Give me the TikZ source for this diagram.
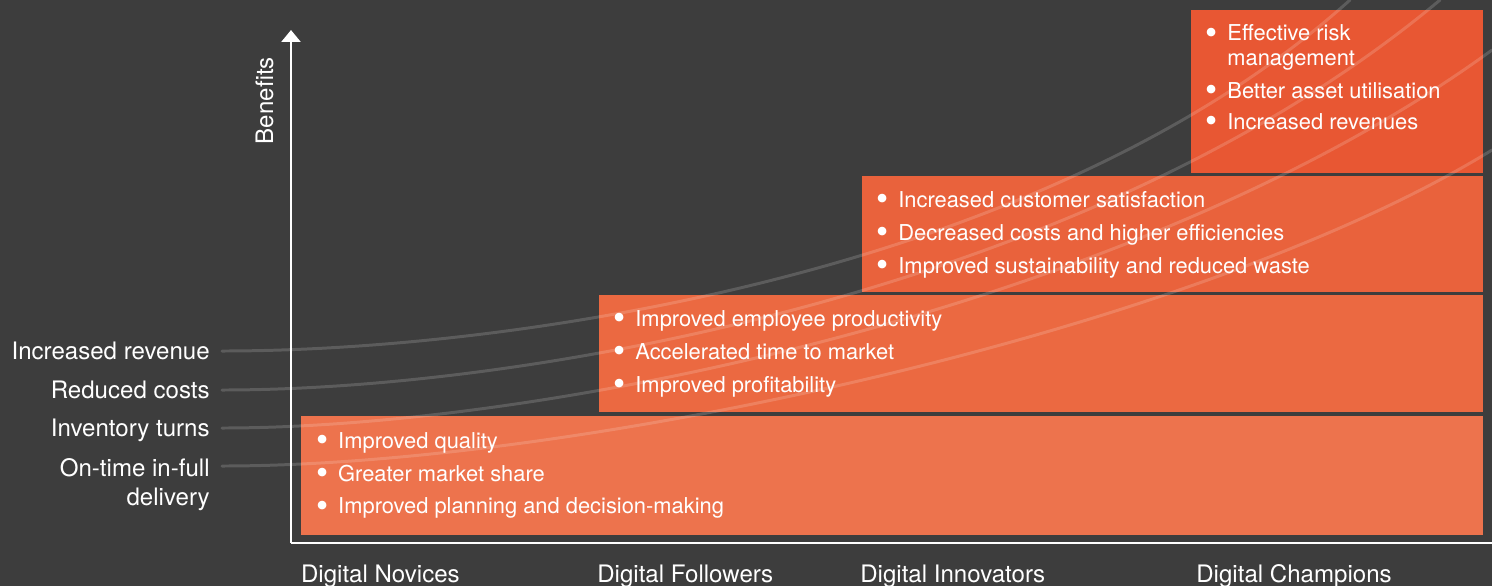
\documentclass[tikz,border=0pt]{standalone}
\usepackage{fontspec}
\setmainfont{TeX Gyre Heros}
\usetikzlibrary{arrows.meta,positioning}
\definecolor{slate}{HTML}{3D3D3D}
\definecolor{novice}{HTML}{ED734D}
\definecolor{follower}{HTML}{EB6941}
\definecolor{innovator}{HTML}{E9623C}
\definecolor{champion}{HTML}{E85733}
\tikzstyle{stage}=[text=white,inner sep=0pt,font=\fontsize{13.7}{16.4}\selectfont]
\tikzstyle{gains}=[text=white,inner sep=0pt,anchor=base west,font=\fontsize{12.45}{18.7}\selectfont]
\tikzstyle{trend}=[white,opacity=0.16,line width=1.7pt,line cap=round]
\tikzstyle{axisline}=[white,line width=1.3pt]
\newcommand{\gdot}{\makebox[4.3pt]{\smash{\raisebox{-1.9pt}{\fontsize{19.7}{19.7}\selectfont\textbullet}}}}
\newcommand{\gainlist}[1]{\begin{tabular}[t]{@{}l@{\hspace{7pt}}l@{}}#1\end{tabular}}

\begin{document}
\begin{tikzpicture}[x=0.02cm,y=-0.02cm]
  \fill[slate] (0,0) rectangle (1492,586);
  \useasboundingbox (0,0) rectangle (1492,586);

  \fill[novice] (301,416) rectangle (1483,535);
  \fill[follower] (599,295) rectangle (1483,412);
  \fill[innovator] (862,176) rectangle (1483,292);
  \fill[champion] (1191,10) rectangle (1483,173);

  \coordinate (corner) at (291,543);
  \coordinate (ytip) at (291,30);
  \coordinate (xend) at (1492,543);
  \draw[axisline,-{Triangle[width=10.8pt,length=6.8pt]}] (corner) -- (ytip);
  \draw[axisline] (corner) -- (xend);

  \node[stage,anchor=base east] (revenue) at (210,359.3) {Increased revenue};
  \node[stage,anchor=base east] (costs) at (210,398) {Reduced costs};
  \node[stage,anchor=base east] (turns) at (210,436.7) {Inventory turns};
  \node[stage,anchor=base east,align=right] (otif) at (210,505) {On-time in-full\\delivery};

  \coordinate (revenue end) at (1350,0);
  \coordinate (costs end) at (1440,0);
  \coordinate (turns end) at (1492,50);
  \coordinate (otif end) at (1492,150);
  \draw[trend] (222,351) .. controls (520,351) and (1050,270) .. (revenue end);
  \draw[trend] (222,390) .. controls (540,390) and (1100,285) .. (costs end);
  \draw[trend] (222,428) .. controls (560,428) and (1150,300) .. (turns end);
  \draw[trend] (222,466) .. controls (580,466) and (1200,330) .. (otif end);

  \node[stage,anchor=base west,rotate=90] (benefits) at (273,144.5) {Benefits};

  \node[gains] (novlist) at (318,448.2) {\gainlist{
    \gdot & Improved quality\\
    \gdot & Greater market share\\
    \gdot & Improved planning and decision-making}};
  \node[gains] (follist) at (615.2,326.5) {\gainlist{
    \gdot & Improved employee productivity\\
    \gdot & Accelerated time to market\\
    \gdot & Improved profitability}};
  \node[gains] (innlist) at (878.2,207.5) {\gainlist{
    \gdot & Increased customer satisfaction\\
    \gdot & Decreased costs and higher efficiencies\\
    \gdot & Improved sustainability and reduced waste}};
  \node[gains] (chalist) at (1207.2,40.7) {\gainlist{
    \gdot & Effective risk\\[-4.5pt]
          & management\\
    \gdot & Better asset utilisation\\[-1pt]
    \gdot & Increased revenues}};

  \node[stage,anchor=base west] (novices) at (300.7,582.2) {Digital Novices};
  \node[stage,anchor=base west] (followers) at (597,582.2) {Digital Followers};
  \node[stage,anchor=base west] (innovators) at (860,582.2) {Digital Innovators};
  \node[stage,anchor=base west] (champions) at (1196,582.2) {Digital Champions};
\end{tikzpicture}
\end{document}
